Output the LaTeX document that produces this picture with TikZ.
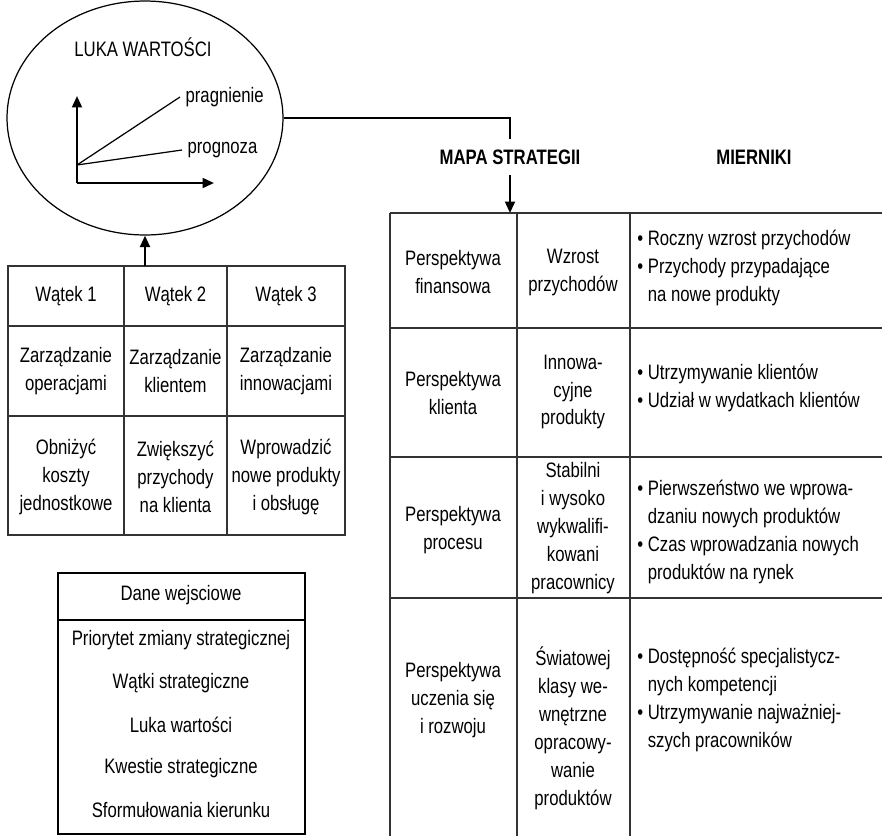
\documentclass[tikz,border=0pt]{standalone}
\usepackage{fontspec}
\setmainfont{Liberation Sans}[FakeStretch=0.8]
\usetikzlibrary{arrows.meta,
		shapes.geometric}

\tikzset{
	txt/.style = {font=\fontsize{11.9}{15.9}\selectfont, align=center, inner sep=0pt},
	metric/.style = {txt, align=left, anchor=west},
	head/.style = {txt, font=\fontsize{11.9}{15.9}\selectfont\bfseries, minimum height=0.72cm},
	tabline/.style = {black!80, line width=0.8pt},
	arr/.style = {-{Triangle[length=6.5pt, width=5.6pt]}, line width=1.3pt},
}
\newcommand{\pkt}{\textbullet\ }
\newcommand{\dalej}{\hphantom{\textbullet\ }}

\begin{document}
\begin{tikzpicture}[x=0.02cm, y=-0.02cm]

\useasboundingbox (0,0) rectangle (882,836);

% luka wartosci
\node[draw, ellipse, line width=0.7pt, inner sep=0pt, minimum width=5.52cm, minimum height=4.68cm] (luka) at (145,118) {};
\node[txt] (tytul) at (143,47) {LUKA WARTOŚCI};

\coordinate (o) at (77,183);
\coordinate (ytop) at (77,96);
\coordinate (xend) at (214,183);
\coordinate (s) at (77,165);
\draw[arr] (o) -- (ytop);
\draw[arr] (o) -- (xend);
\node[txt, anchor=west, inner sep=3pt] (prag) at (180,97) {pragnienie};
\node[txt, anchor=west, inner sep=3pt] (prog) at (182,150) {prognoza};
\draw[line width=0.7pt] (s) -- (prag.west);
\draw[line width=0.7pt] (s) -- (prog.west);

% naglowki
\node[head] (mapa) at (510,157) {MAPA STRATEGII};
\node[head] (miern) at (754,157) {MIERNIKI};
\coordinate (mapatop) at (510,213);
\draw[line width=0.8pt] (luka.east) -| (mapa.north);
\draw[arr] (mapa.south) -- (mapatop);

% watki strategiczne
\draw[tabline] (8,266) rectangle (345,535);
\draw[tabline] (8,326) -- (345,326);
\draw[tabline] (8,416) -- (345,416);
\draw[tabline] (124,266) -- (124,535);
\draw[tabline] (227,266) -- (227,535);
\coordinate (watki) at (145,266);
\draw[arr] (watki) -- (luka.south);

\foreach \x/\n in {66/1, 175.5/2, 286/3}
	\node[txt] (w\n) at (\x,296) {Wątek \n};
\node[txt] (z1) at (66,371) {Zarządzanie\\operacjami};
\node[txt] (z2) at (175.5,371) {Zarządzanie\\klientem};
\node[txt] (z3) at (286,371) {Zarządzanie\\innowacjami};
\node[txt] (c1) at (66,477) {Obniżyć\\koszty\\jednostkowe};
\node[txt] (c2) at (175.5,477) {Zwiększyć\\przychody\\na klienta};
\node[txt] (c3) at (286,477) {Wprowadzić\\nowe produkty\\i obsługę};

% dane wejsciowe
\draw[line width=1pt] (58,573) rectangle (305,834);
\draw[line width=1pt] (58,620) -- (305,620);
\node[txt] (dane) at (181,595) {Dane wejsciowe};
\foreach \y/\t [count=\i] in {640/Priorytet zmiany strategicznej, 683/Wątki strategiczne,
		725/Luka wartości, 768/Kwestie strategiczne, 810/Sformułowania kierunku}
	\node[txt] (d\i) at (181,\y) {\t};

% mapa strategii i mierniki
\foreach \y in {213, 328, 457, 598}
	\draw[tabline] (390,\y) -- (882,\y);
\foreach \x in {390, 517, 630}
	\draw[tabline] (\x,213) -- (\x,836);

\node[txt] (p1) at (453,272) {Perspektywa\\finansowa};
\node[txt] (p2) at (453,393) {Perspektywa\\klienta};
\node[txt] (p3) at (453,530) {Perspektywa\\procesu};
\node[txt] (p4) at (453,700) {Perspektywa\\uczenia się\\i rozwoju};

\node[txt] (s1) at (573,272) {Wzrost\\przychodów};
\node[txt] (s2) at (573,392) {Innowa-\\cyjne\\produkty};
\node[txt] (s3) at (573,528) {Stabilni\\i wysoko\\wykwalifi-\\kowani\\pracownicy};
\node[txt] (s4) at (573,728) {Światowej\\klasy we-\\wnętrzne\\opracowy-\\wanie\\produktów};

\node[metric] (m1) at (637,268) {\pkt Roczny wzrost przychodów\\\pkt Przychody przypadające\\\dalej na nowe produkty};
\node[metric] (m2) at (637,388) {\pkt Utrzymywanie klientów\\\pkt Udział w wydatkach klientów};
\node[metric] (m3) at (637,532) {\pkt Pierwszeństwo we wprowa-\\\dalej dzaniu nowych produktów\\\pkt Czas wprowadzania nowych\\\dalej produktów na rynek};
\node[metric] (m4) at (637,700) {\pkt Dostępność specjalistycz-\\\dalej nych kompetencji\\\pkt Utrzymywanie najważniej-\\\dalej szych pracowników};

\end{tikzpicture}
\end{document}
